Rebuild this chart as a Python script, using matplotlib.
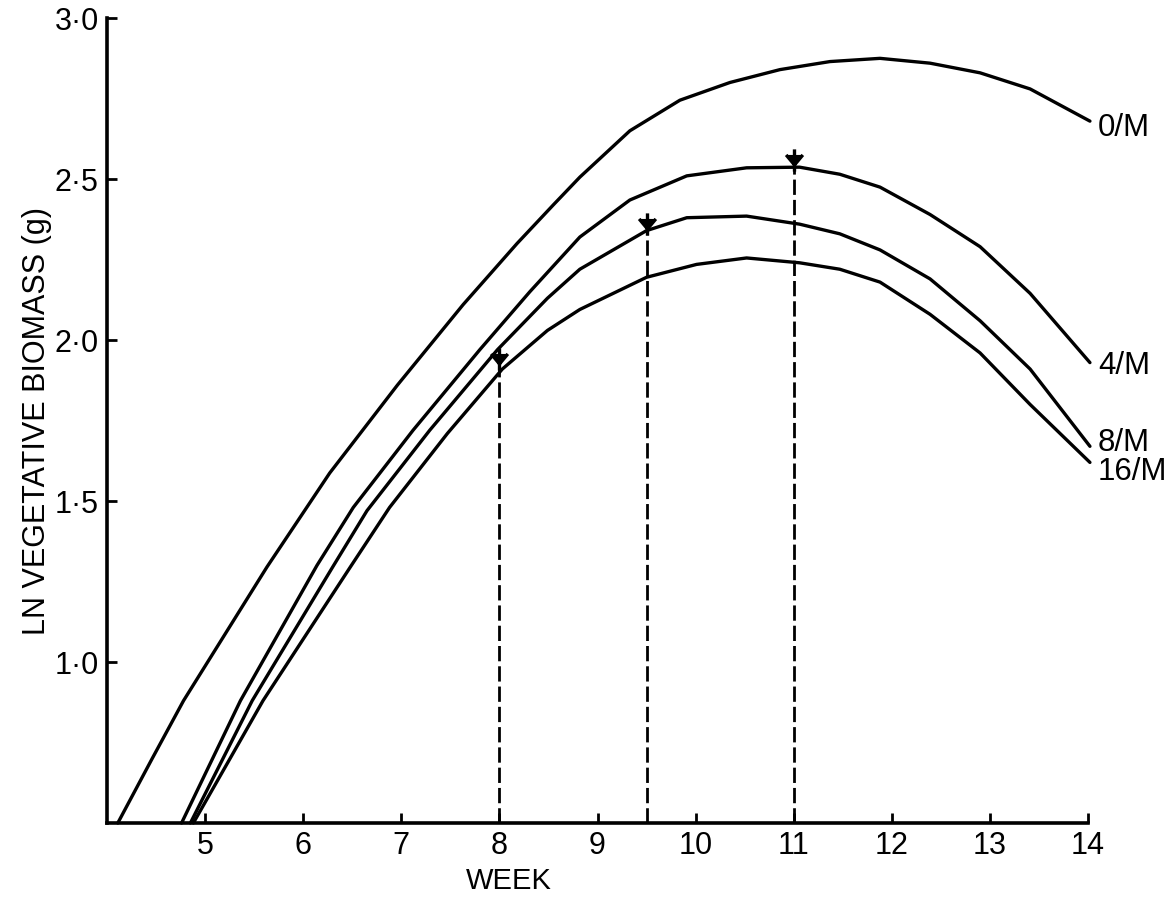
import matplotlib
matplotlib.use("Agg")
import matplotlib.pyplot as plt
from matplotlib.path import Path

# data (week, ln vegetative biomass)
wk_0m = [4.11, 4.46, 4.78, 5.63, 6.27, 6.96, 7.63, 8.18, 8.55, 8.82, 9.33, 9.84, 10.35, 10.86, 11.37, 11.88, 12.39, 12.90, 13.41, 14.02]
ln_0m = [0.50, 0.70, 0.88, 1.295, 1.587, 1.86, 2.11, 2.30, 2.42, 2.506, 2.65, 2.745, 2.80, 2.84, 2.865, 2.875, 2.86, 2.83, 2.78, 2.68]

wk_4m = [4.76, 5.36, 6.14, 6.51, 7.12, 7.80, 8.31, 8.82, 9.33, 9.91, 10.52, 11.06, 11.47, 11.88, 12.39, 12.90, 13.41, 14.02]
ln_4m = [0.50, 0.88, 1.30, 1.48, 1.72, 1.97, 2.15, 2.32, 2.435, 2.51, 2.535, 2.537, 2.515, 2.475, 2.39, 2.29, 2.145, 1.93]

wk_8m = [4.85, 5.48, 6.30, 6.65, 7.29, 7.98, 8.49, 8.82, 9.50, 9.91, 10.52, 11.06, 11.47, 11.88, 12.39, 12.90, 13.41, 14.02]
ln_8m = [0.50, 0.88, 1.295, 1.47, 1.72, 1.97, 2.13, 2.22, 2.34, 2.38, 2.385, 2.36, 2.33, 2.28, 2.19, 2.06, 1.91, 1.67]

wk_16m = [4.88, 5.59, 6.48, 6.88, 7.47, 8.03, 8.49, 8.82, 9.50, 10.01, 10.52, 11.06, 11.47, 11.88, 12.39, 12.90, 13.41, 14.02]
ln_16m = [0.50, 0.88, 1.295, 1.48, 1.71, 1.91, 2.03, 2.095, 2.195, 2.235, 2.255, 2.24, 2.22, 2.18, 2.08, 1.96, 1.80, 1.62]

series_names = ["0/M", "4/M", "8/M", "16/M"]
label_y = [2.66, 1.92, 1.68, 1.59]

# harvest points with dashed drop lines
drop_wk = [8.0, 9.5, 11.0]
drop_ln = [1.92, 2.34, 2.54]

x_ticks = [5, 6, 7, 8, 9, 10, 11, 12, 13, 14]
y_ticks = [1.0, 1.5, 2.0, 2.5, 3.0]
y_ticklabels = ["1·0", "1·5", "2·0", "2·5", "3·0"]

plt.rcParams['font.family'] = ['Liberation Sans', 'DejaVu Sans']

# little downward arrow mark used in the original
arrow_mark = Path([(0, 1.0), (0, -1.0), (-0.75, 0.5), (0, -0.4), (0.75, 0.5)],
                  [Path.MOVETO, Path.LINETO, Path.MOVETO, Path.LINETO, Path.LINETO])

fig = plt.figure(figsize=(11.71, 9.05), dpi=100)
ax = fig.add_axes([0.0914, 0.0906, 0.8377, 0.8894])

curves = [(wk_0m, ln_0m), (wk_4m, ln_4m), (wk_8m, ln_8m), (wk_16m, ln_16m)]
for (xs, ys), name, ly in zip(curves, series_names, label_y):
    ax.plot(xs, ys, color='black', lw=2.4, solid_joinstyle='round',
            solid_capstyle='round', clip_on=False)
    ax.text(14.1, ly, name, fontsize=22.5, ha='left', va='center', clip_on=False)

for w, v in zip(drop_wk, drop_ln):
    ax.plot([w, w], [0.5, v], color='black', lw=2.0, linestyle=(0, (5.5, 1.8)))
    ax.plot([w], [v + 0.02], marker=arrow_mark, color='black', ms=16, mew=2.4)

ax.set_xlim(4, 14)
ax.set_ylim(0.5, 3.0)
ax.set_xticks(x_ticks)
ax.set_xticklabels([str(t) for t in x_ticks])
ax.set_yticks(y_ticks)
ax.set_yticklabels(y_ticklabels)
ax.tick_params(direction='in', length=7, width=2, labelsize=22, pad=6)

for side in ['top', 'right']:
    ax.spines[side].set_visible(False)
for side in ['left', 'bottom']:
    ax.spines[side].set_linewidth(2.6)

ax.set_xlabel('WEEK', fontsize=21, labelpad=0)
ax.xaxis.set_label_coords(0.41, -0.055)
ax.set_ylabel('LN VEGETATIVE BIOMASS (g)', fontsize=22, labelpad=2)

fig.savefig('out.png', dpi=100)
